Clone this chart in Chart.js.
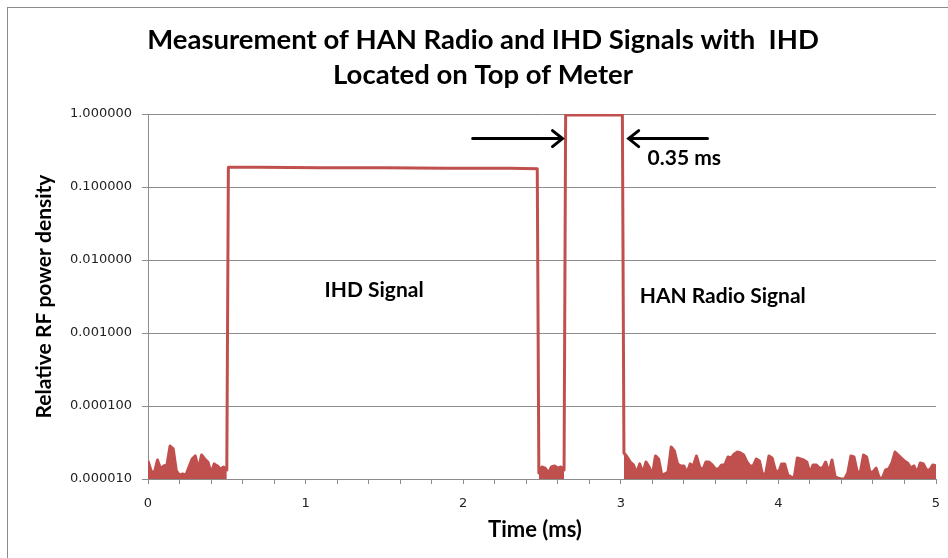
<!DOCTYPE html>
<html lang="en">
<head>
<meta charset="UTF-8">
<title>HAN Radio and IHD Signals</title>
<script src="https://cdn.jsdelivr.net/npm/chart.js"></script>
<style>
    html, body { margin: 0; padding: 0; background: #fff; }
    #signalChart { display: block; }
</style>
</head>
<body>
<canvas id="signalChart" width="948" height="558"></canvas>
<script>
// Sample spacing of the noise records (ms)
const sampleStep = 0.02;

// Noise floor before the IHD burst, 0.00 - 0.50 ms (x 1e-5)
const leadNoise = [1.76, 1.29, 1.21, 1.82, 1.37, 1.51, 1.56, 2.83, 2.58, 1.29,
                   1.13, 1.17, 1.13, 1.46, 1.88, 2.07, 1.37, 2.13, 1.88, 1.71,
                   1.21, 1.61, 1.51, 1.37, 1.46, 1.33];

// IHD burst plateau
const ihdTimes = [0.51, 0.70, 0.90, 1.10, 1.30, 1.50, 1.70, 1.90, 2.10, 2.30, 2.47];
const ihdLevel = [0.186, 0.187, 0.185, 0.184, 0.183, 0.183, 0.182, 0.181, 0.180, 0.180, 0.178];

// Gap between the bursts, 2.48 - 2.64 ms (x 1e-5)
const gapNoise = [1.21, 1.46, 1.41, 1.21, 1.46, 1.51, 1.41, 1.46, 1.33];

// HAN radio burst plateau
const hanTimes = [2.65, 2.75, 2.85, 2.95, 3.01];
const hanLevel = [0.97, 0.97, 0.97, 0.97, 0.97];

// Noise floor after the HAN burst, 3.02 - 5.00 ms (x 1e-5)
const tailNoise = [2.27, 2.00, 1.71, 1.56, 1.21, 1.61, 1.21, 1.71, 1.46, 1.13,
                   2.07, 1.88, 1.13, 1.17, 1.25, 2.74, 2.42, 1.61, 1.51, 1.51,
                   1.21, 1.61, 1.51, 2.07, 1.46, 1.33, 1.71, 1.71, 1.56, 1.37,
                   1.37, 1.56, 1.56, 2.00, 1.94, 2.20, 2.34, 2.27, 2.13, 1.71,
                   1.51, 1.51, 1.88, 1.76, 1.13, 1.21, 2.07, 1.94, 1.33, 1.21,
                   1.61, 1.61, 1.13, 1.07, 1.03, 1.94, 1.88, 1.82, 1.71, 1.21,
                   1.56, 1.56, 1.41, 1.41, 1.71, 1.21, 1.82, 1.07, 1.03, 1.00,
                   1.00, 1.21, 2.07, 2.00, 1.25, 1.25, 2.13, 2.00, 1.25, 1.25,
                   1.41, 1.03, 1.03, 1.33, 1.37, 1.66, 2.34, 2.13, 1.94, 1.76,
                   1.66, 1.41, 1.51, 1.21, 1.66, 1.61, 1.33, 1.33, 1.56, 1.51];

const yTicks = [0.00001, 0.0001, 0.001, 0.01, 0.1, 1];

const titleLines = ['Measurement of HAN Radio and IHD Signals with  IHD', 'Located on Top of Meter'];
const xTitle = 'Time (ms)';

const lineColor = '#C0504D';
const gridColor = '#8c8c8c';
const labelFont = { family: 'Lato', size: 21, weight: 'bold', lineHeight: 1.2 };

// Assemble the trace as {x, y} points
function noisePoints(start, values) {
    return values.map((v, i) => ({ x: +(start + i * sampleStep).toFixed(2), y: v * 1e-5 }));
}
function plateau(times, levels) {
    return times.map((t, i) => ({ x: t, y: levels[i] }));
}

const trace = [
    ...noisePoints(0, leadNoise),
    ...plateau(ihdTimes, ihdLevel),
    ...noisePoints(2.48, gapNoise),
    ...plateau(hanTimes, hanLevel),
    ...noisePoints(3.02, tailNoise)
];
// Noise-only copy so the floor can be shaded down to the axis
const floorOnly = trace.map(p => ({ x: p.x, y: p.y < 1e-4 ? p.y : null }));

// Chart frame, titles, arrows and labels
const annotate = {
    id: 'annotate',
    beforeDraw(chart) {
        const ctx = chart.ctx;
        ctx.save();
        ctx.fillStyle = '#fff';
        ctx.fillRect(0, 0, chart.width, chart.height);
        ctx.strokeStyle = '#8c8c8c';
        ctx.lineWidth = 1;
        ctx.strokeRect(7.5, 7.5, chart.width + 20, chart.height + 20);

        ctx.fillStyle = '#000';
        ctx.textAlign = 'center';
        ctx.textBaseline = 'middle';
        ctx.font = 'bold 27.5px Lato';
        ctx.fillText(titleLines[0], 483, 40);
        ctx.fillText(titleLines[1], 483, 75);
        ctx.font = 'bold 22px Lato';
        ctx.fillText(xTitle, 535, 530);
        ctx.restore();
    },
    afterDatasetsDraw(chart) {
        const ctx = chart.ctx;
        const xs = chart.scales.x, ys = chart.scales.y;
        const px = v => xs.getPixelForValue(v);
        const py = v => ys.getPixelForValue(v);

        function arrow(fromX, toX, yv) {
            const x0 = px(fromX), x1 = px(toX), y = py(yv);
            const dir = Math.sign(x1 - x0);
            ctx.beginPath();
            ctx.moveTo(x0, y);
            ctx.lineTo(x1, y);
            ctx.moveTo(x1 - dir * 10, y - 8);
            ctx.lineTo(x1, y);
            ctx.lineTo(x1 - dir * 10, y + 8);
            ctx.stroke();
        }

        ctx.save();
        ctx.strokeStyle = '#000';
        ctx.lineWidth = 3;
        ctx.lineCap = 'round';
        ctx.lineJoin = 'miter';
        arrow(2.06, 2.63, 0.46);
        arrow(3.55, 3.05, 0.46);

        ctx.fillStyle = '#000';
        ctx.font = 'bold 21px Lato';
        ctx.textBaseline = 'middle';
        ctx.textAlign = 'left';
        ctx.fillText('0.35 ms', px(3.17), py(0.25));
        ctx.fillText('IHD Signal', px(1.12), py(0.0039));
        ctx.fillText('HAN Radio Signal', px(3.12), py(0.0032));
        ctx.restore();
    }
};

new Chart(document.getElementById('signalChart'), {
    type: 'line',
    data: {
        datasets: [
            {
                label: 'Relative RF power density',
                data: trace,
                borderColor: lineColor,
                borderWidth: 3,
                borderJoinStyle: 'round',
                pointRadius: 0,
                fill: false,
                tension: 0
            },
            {
                label: 'Noise floor',
                data: floorOnly,
                borderColor: lineColor,
                backgroundColor: lineColor,
                borderWidth: 1,
                pointRadius: 0,
                fill: 'start',
                spanGaps: false,
                tension: 0
            }
        ]
    },
    options: {
        responsive: false,
        animation: false,
        layout: { padding: { left: 0, right: 12, top: 114, bottom: 0 } },
        plugins: {
            legend: { display: false },
            tooltip: { enabled: false },
            title: { display: false }
        },
        scales: {
            x: {
                type: 'linear',
                min: 0,
                max: 5,
                afterFit: scale => {
                    scale.height = 79;
                    scale.paddingLeft = 0;
                    scale.paddingRight = 0;
                },
                border: { color: gridColor },
                grid: { drawOnChartArea: false, color: gridColor, tickLength: 5 },
                ticks: {
                    stepSize: 0.2,
                    autoSkip: false,
                    maxRotation: 0,
                    padding: 12,
                    color: '#222',
                    font: { family: 'DejaVu Sans', size: 13 },
                    callback: v => Math.abs(v - Math.round(v)) < 1e-6 ? String(Math.round(v)) : ''
                }
            },
            y: {
                type: 'logarithmic',
                min: 0.00001,
                max: 1,
                afterFit: scale => { scale.width = 148; },
                afterBuildTicks: scale => { scale.ticks = yTicks.map(v => ({ value: v })); },
                border: { color: gridColor },
                grid: { color: gridColor, tickLength: 6 },
                ticks: {
                    padding: 10,
                    color: '#222',
                    font: { family: 'DejaVu Sans', size: 13 },
                    callback: v => Number(v).toFixed(6)
                },
                title: {
                    display: true,
                    text: 'Relative RF power density',
                    color: '#000',
                    font: labelFont,
                    padding: { top: 32, bottom: 0 }
                }
            }
        }
    },
    plugins: [annotate]
});
</script>
</body>
</html>
